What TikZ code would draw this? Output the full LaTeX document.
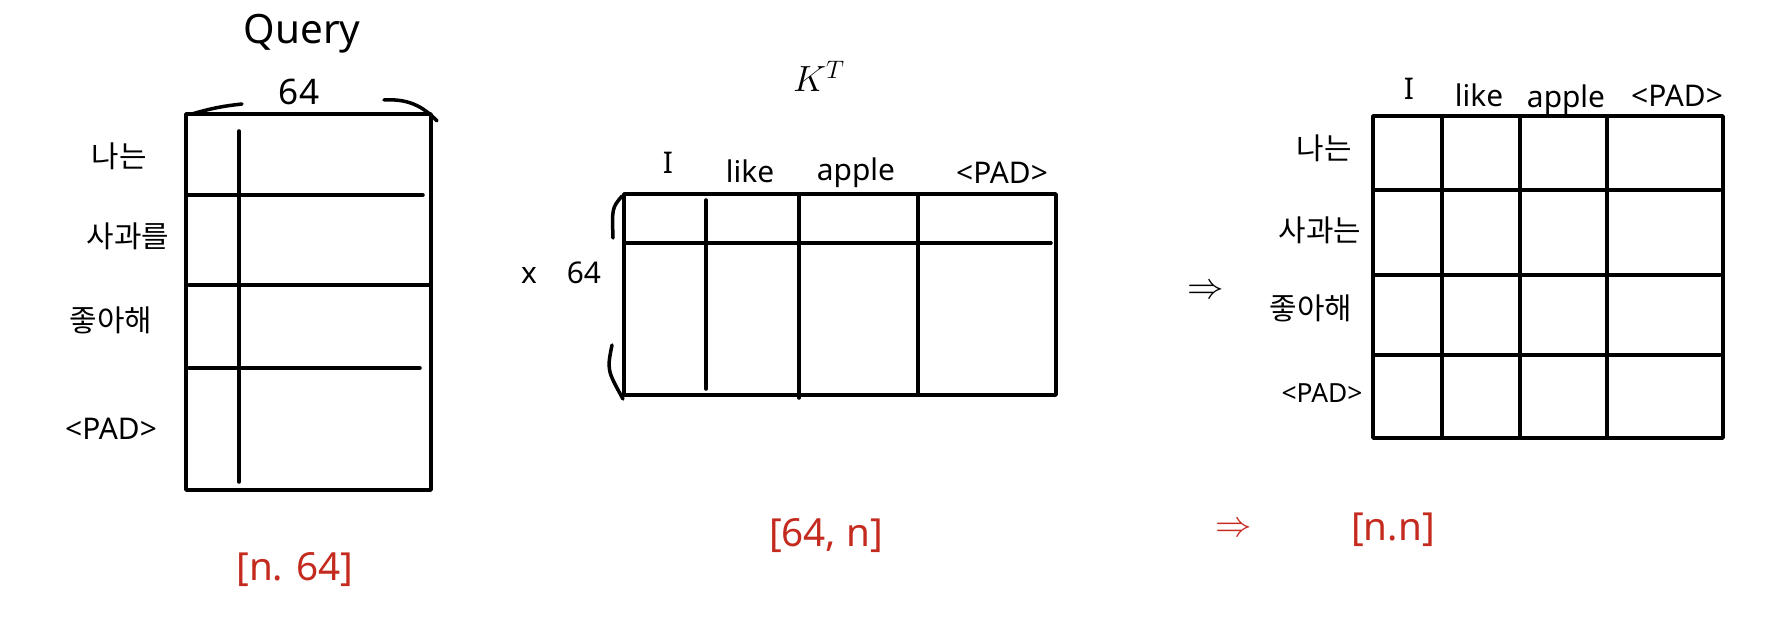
\documentclass[tikz,border=0pt]{standalone}
\usepackage{fontspec}
\setmainfont{Noto Sans}
\newfontfamily\kr{Noto Sans CJK KR}
\definecolor{inkred}{RGB}{196,42,30}
\begin{document}
\begin{tikzpicture}[x=0.02cm,y=-0.02cm,line width=2pt,line join=round,line cap=round,every node/.style={font=\fontsize{17}{20}\selectfont,inner sep=1pt},dimlbl/.style={text=inkred,font=\fontsize{22}{26}\selectfont}]
				\useasboundingbox (0,0) rectangle (1788,617);
				\node (qry) at (302,34) {\fontsize{23}{28}\selectfont Query};
				\node (qdim) at (299,92) {\fontsize{20}{24}\selectfont 64};
				\draw (186,114) rectangle (431,490);
				\draw (186,195) -- (423,195) (189,285) -- (431,285) (189,368) -- (420,368);
				\draw (239,131) -- (239,482);
				\draw (192,114) to[bend left=5] (242,104);
				\draw (384,100) to[bend left=25] (437,121);
				\node (qa) at (119,156) {\kr 나는};
				\node (qb) at (128,236) {\kr 사과를};
				\node (qc) at (111,320) {\kr 좋아해};
				\node (qd) at (111,429) {<PAD>};
				\node[dimlbl] (qsz) at (295,570) {[n. 64]};
				\node (kt) at (819,76) {\fontsize{22}{26}\selectfont $K^{T}$};
				\draw (624,194) rectangle (1056,395);
				\draw (624,243) -- (1051,243);
				\draw (706,200) -- (706,389) (799,194) -- (799,398) (918,194) -- (918,395);
				\draw (622,196) .. controls (612,208) .. (613,238);
				\draw (612,345) .. controls (607,370) .. (623,399);
				\node (ka) at (668,163) {I};
				\node (kb) at (750,171) {like};
				\node (kc) at (856,173) {apple};
				\node (kd) at (1002,173) {<PAD>};
				\node (kdim) at (561,273) {x\quad 64};
				\node[dimlbl] (ksz) at (826,536) {[64, n]};
				\node (eq) at (1206,292) {\fontsize{20}{24}\selectfont $\Rightarrow$};
				\draw (1373,116) rectangle (1723,438);
				\foreach \y in {190,275,355} \draw (1373,\y) -- (1720,\y);
				\foreach \x in {1442,1520,1607} \draw (\x,116) -- (\x,436);
				\node (sa) at (1409,89) {I};
				\node (sb) at (1479,95) {like};
				\node (sc) at (1566,100) {apple};
				\node (sd) at (1677,96) {<PAD>};
				\node (ra) at (1324,148) {\kr 나는};
				\node (rb) at (1320,230) {\kr 사과는};
				\node (rc) at (1311,308) {\kr 좋아해};
				\node (rd) at (1322,393) {\fontsize{15}{18}\selectfont <PAD>};
				\node[dimlbl] (seq) at (1234,530) {$\Rightarrow$};
				\node[dimlbl] (ssz) at (1393,530) {[n.n]};
		\end{tikzpicture}
\end{document}
